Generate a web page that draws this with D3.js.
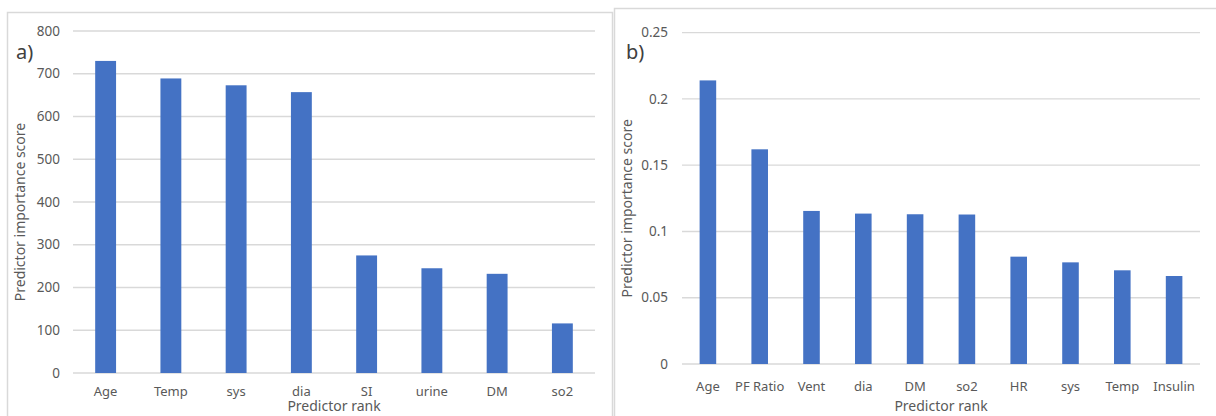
<!DOCTYPE html>
<html>
  <head>
    <meta charset="utf-8">
    <script src="https://cdn.jsdelivr.net/npm/d3@7"></script>
    <style>
      body { margin: 0; background: #fff; }
      svg { display: block; }
    </style>
  </head>
  <body>
    <svg></svg>
    <script>
      // panel a)
      let namesA = ["Age", "Temp", "sys", "dia", "SI", "urine", "DM", "so2"];
      let scoresA = [730, 689, 673, 657, 275, 245, 232, 116];
      let ticksA = [0, 100, 200, 300, 400, 500, 600, 700, 800];

      // panel b)
      let namesB = ["Age", "PF Ratio", "Vent", "dia", "DM", "so2", "HR", "sys", "Temp", "Insulin"];
      let scoresB = [0.214, 0.162, 0.1155, 0.1135, 0.113, 0.1128, 0.081, 0.0767, 0.0707, 0.0664];
      let ticksB = [0, 0.05, 0.1, 0.15, 0.2, 0.25];

      let fontFamily = `'Noto Sans', sans-serif`;
      let gray = "#595959", gridColor = "#d9d9d9", barColor = "#4472C4";

      let svg = d3.select("svg").attr("width", 1216).attr("height", 416);

      function drawPanel(p) {
        let g = svg.append("g");

        // frame
        g.append("rect")
         .attr("x", p.frame[0] + 0.5).attr("y", p.frame[1] + 0.5)
         .attr("width", p.frame[2]).attr("height", p.frame[3])
         .attr("fill", "none").attr("stroke", gridColor).attr("stroke-width", 1.5);

        let x = d3.scaleBand().domain(p.names).range([p.left, p.right]).paddingInner(0.68).paddingOuter(0.34);
        let y = d3.scaleLinear().domain([0, d3.max(p.ticks)]).range([p.bottom, p.top]);

        // gridlines
        g.selectAll(".grid").data(p.ticks).enter().append("line")
         .attr("x1", p.left).attr("x2", p.right)
         .attr("y1", d => y(d)).attr("y2", d => y(d))
         .attr("stroke", gridColor).attr("stroke-width", 1.3);

        // tick labels
        g.selectAll(".tick").data(p.ticks).enter().append("text")
         .attr("x", p.tickX).attr("y", d => y(d)).attr("dy", "0.35em")
         .attr("text-anchor", "end").attr("fill", gray)
         .attr("font-family", fontFamily).attr("font-size", 13.5)
         .text(d => p.fmt(d));

        // bars
        g.selectAll(".bar").data(p.scores).enter().append("rect")
         .attr("x", (d, i) => x(p.names[i]))
         .attr("y", d => y(d))
         .attr("width", x.bandwidth())
         .attr("height", d => p.bottom - y(d))
         .attr("fill", barColor);

        // category labels
        g.selectAll(".cat").data(p.names).enter().append("text")
         .attr("x", d => x(d) + x.bandwidth() / 2).attr("y", p.catY)
         .attr("text-anchor", "middle").attr("fill", gray)
         .attr("font-family", fontFamily).attr("font-size", 13)
         .text(d => d);

        // axis titles
        g.append("text")
         .attr("x", (p.left + p.right) / 2).attr("y", 411)
         .attr("text-anchor", "middle").attr("fill", gray)
         .attr("font-family", fontFamily).attr("font-size", 14)
         .text("Predictor rank");

        g.append("text")
         .attr("transform", `translate(${p.titleX},${(p.top + p.bottom) / 2 + p.titleShift}) rotate(-90)`)
         .attr("text-anchor", "middle").attr("fill", gray)
         .attr("font-family", fontFamily).attr("font-size", 14)
         .text("Predictor importance score");

        // panel letter
        g.append("text")
         .attr("x", p.letterX).attr("y", 59)
         .attr("fill", "#404040")
         .attr("font-family", fontFamily).attr("font-size", 20)
         .text(p.letter);
      }

      drawPanel({
        names: namesA, scores: scoresA, ticks: ticksA, fmt: d => d,
        frame: [7, 12, 605, 420], left: 73, right: 595, top: 31, bottom: 373,
        tickX: 60, catY: 396, titleX: 25, titleShift: 10, letterX: 16, letter: "a)"
      });

      drawPanel({
        names: namesB, scores: scoresB, ticks: ticksB, fmt: d => d3.format("")(+d.toFixed(2)),
        frame: [614, 8, 620, 420], left: 682, right: 1200, top: 32.7, bottom: 364,
        tickX: 668, catY: 391, titleX: 632, titleShift: 10, letterX: 626, letter: "b)"
      });
    </script>
  </body>
</html>
